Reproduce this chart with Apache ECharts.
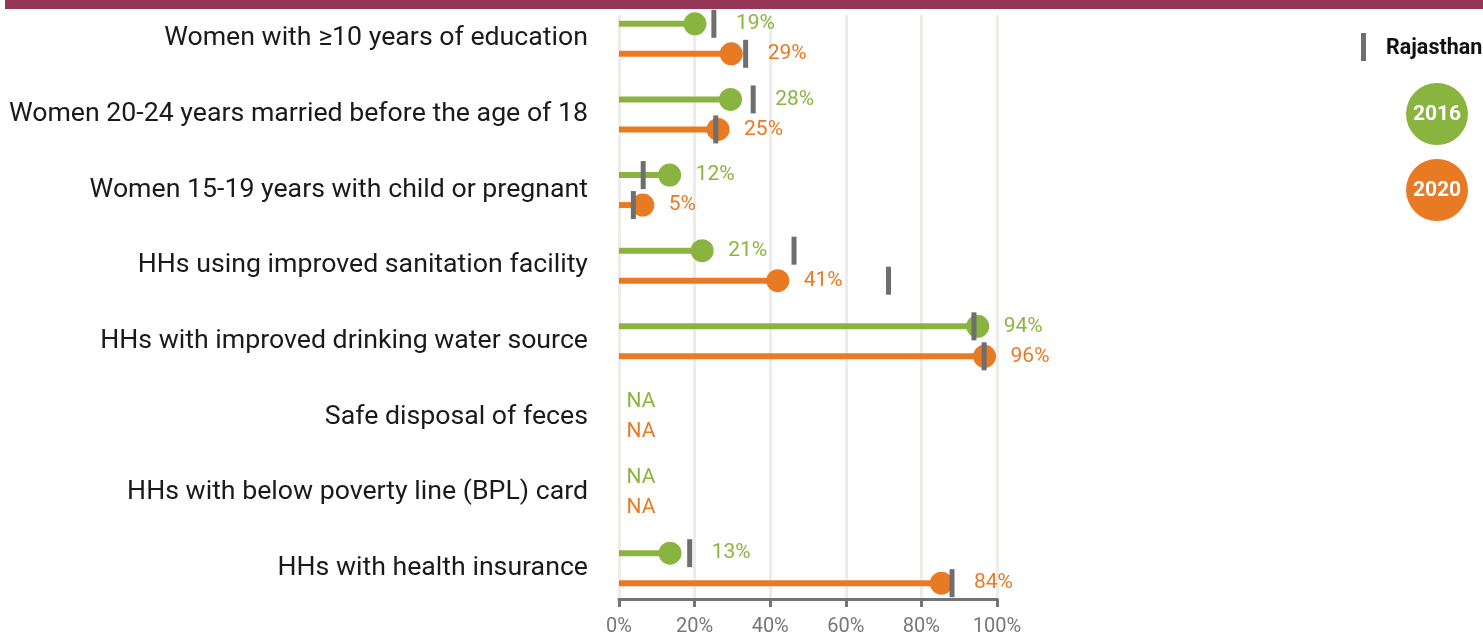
<!DOCTYPE html>
<html>
<head>
<meta charset="utf-8">
<script src="https://cdn.jsdelivr.net/npm/echarts@6/dist/echarts.min.js"></script>
<style>
html,body{margin:0;padding:0;background:#fff;}
#chart{width:1483px;height:637px;}
</style>
</head>
<body>
<div id="chart"></div>
<script>
const categories = [
  'Women with \u226510 years of education',
  'Women 20-24 years married before the age of 18',
  'Women 15-19 years with child or pregnant',
  'HHs using improved sanitation facility',
  'HHs with improved drinking water source',
  'Safe disposal of feces',
  'HHs with below poverty line (BPL) card',
  'HHs with health insurance'
];
const val2016 = [20.1, 29.5, 13.4, 22.0, 94.9, null, null, 13.5];
const val2020 = [29.7, 26.2, 6.3, 42.0, 96.7, null, null, 85.3];
const label2016 = ['19%', '28%', '12%', '21%', '94%', 'NA', 'NA', '13%'];
const label2020 = ['29%', '25%', '5%', '41%', '96%', 'NA', 'NA', '84%'];
const state2016 = [25.1, 35.5, 6.4, 46.3, 93.9, null, null, 18.7];
const state2020 = [33.5, 25.6, 3.8, 71.3, 96.6, null, null, 88.1];
const xTickValues = [0, 20, 40, 60, 80, 100];
const years = ['2016', '2020'];
const stateName = 'Rajasthan';

const GREEN = '#8ab440';
const ORANGE = '#e87a24';
const GREY = '#6e6e6e';
const FONT = 'Roboto';
const PX_PER_UNIT = 378 / 100;
const OFF = 15;

function dotData(vals, states) {
  return vals.map((v, i) => {
    if (v == null) {
      return { value: [0, i], symbolSize: 1, itemStyle: { color: 'transparent' }, label: { distance: 7 } };
    }
    let dist = 14.5;
    const s = states[i];
    if (s != null && s > v && (s - v) < 15) {
      dist = Math.max(dist, (s - v) * PX_PER_UNIT + 22 - 11.5);
    }
    return { value: [v, i], label: { distance: dist } };
  });
}
function stateData(states) {
  return states.map((s, i) => (s == null ? { value: [null, i] } : { value: [s, i] }));
}

const chart = echarts.init(document.getElementById('chart'), null, { renderer: 'canvas' });

const option = {
  backgroundColor: '#ffffff',
  animation: false,
  textStyle: { fontFamily: FONT },
  grid: [
    { left: 619, right: 486, top: 1, bottom: 31 },
    { left: 619, right: 486, top: 15, bottom: 38 }
  ],
  xAxis: [
    { gridIndex: 0, type: 'value', min: 0, max: 100, show: false },
    {
      gridIndex: 1, type: 'value', min: 0, max: 100, interval: 20,
      axisLine: { show: true, lineStyle: { color: '#737373', width: 3 } },
      axisTick: { show: true, length: 8, lineStyle: { color: '#737373', width: 3 } },
      axisLabel: {
        show: true, fontFamily: FONT, fontSize: 20, color: '#777777', margin: 18,
        formatter: v => (xTickValues.indexOf(v) >= 0 ? v + '%' : '')
      },
      splitLine: { show: true, lineStyle: { color: '#eeece8', width: 3 } }
    }
  ],
  yAxis: [
    {
      gridIndex: 0, type: 'category', data: categories, inverse: true,
      axisLine: { show: false }, axisTick: { show: false }, splitLine: { show: false },
      axisLabel: { fontFamily: FONT, fontSize: 26.7, color: '#1a1a1a', margin: 31, padding: [7, 0, 0, 0] }
    },
    { gridIndex: 1, type: 'value', min: 0, max: 1, show: false }
  ],
  series: [
    {
      name: years[0] + ' stem', type: 'bar', xAxisIndex: 0, yAxisIndex: 0,
      data: val2016, barWidth: 6, barGap: '400%', itemStyle: { color: GREEN }, z: 2, silent: true
    },
    {
      name: years[1] + ' stem', type: 'bar', xAxisIndex: 0, yAxisIndex: 0,
      data: val2020, barWidth: 6, barGap: '400%', itemStyle: { color: ORANGE }, z: 2, silent: true
    },
    {
      name: years[0], type: 'scatter', xAxisIndex: 0, yAxisIndex: 0,
      data: dotData(val2016, state2016), symbol: 'circle', symbolSize: 23, symbolOffset: [0, -OFF],
      itemStyle: { color: GREEN, opacity: 1 }, z: 3,
      label: {
        show: true, position: 'right', color: GREEN, fontFamily: FONT, fontSize: 21,
        formatter: p => label2016[p.dataIndex]
      }
    },
    {
      name: years[1], type: 'scatter', xAxisIndex: 0, yAxisIndex: 0,
      data: dotData(val2020, state2020), symbol: 'circle', symbolSize: 23, symbolOffset: [0, OFF],
      itemStyle: { color: ORANGE, opacity: 1 }, z: 3,
      label: {
        show: true, position: 'right', color: ORANGE, fontFamily: FONT, fontSize: 21,
        formatter: p => label2020[p.dataIndex]
      }
    },
    {
      name: stateName + ' ' + years[0], type: 'scatter', xAxisIndex: 0, yAxisIndex: 0,
      data: stateData(state2016), symbol: 'rect', symbolSize: [5, 28], symbolOffset: [0, -OFF],
      itemStyle: { color: GREY, opacity: 1 }, z: 4
    },
    {
      name: stateName + ' ' + years[1], type: 'scatter', xAxisIndex: 0, yAxisIndex: 0,
      data: stateData(state2020), symbol: 'rect', symbolSize: [5, 28], symbolOffset: [0, OFF],
      itemStyle: { color: GREY, opacity: 1 }, z: 4
    }
  ],
  graphic: [
    { type: 'rect', left: 5, top: 0, shape: { width: 1478, height: 9 }, style: { fill: '#963656' }, silent: true },
    { type: 'rect', left: 1361, top: 33, shape: { width: 5, height: 28 }, style: { fill: GREY }, silent: true },
    { type: 'text', x: 1386, y: 49, style: { text: stateName, fontFamily: FONT, fontWeight: 'bold', fontSize: 21.5, fill: '#111111', verticalAlign: 'middle' } },
    { type: 'circle', shape: { cx: 1437, cy: 114, r: 31 }, style: { fill: GREEN }, silent: true },
    { type: 'text', x: 1437, y: 115, style: { text: years[0], fontFamily: FONT, fontWeight: 'bold', fontSize: 21, fill: '#ffffff', align: 'center', verticalAlign: 'middle' } },
    { type: 'circle', shape: { cx: 1437, cy: 190, r: 31 }, style: { fill: ORANGE }, silent: true },
    { type: 'text', x: 1437, y: 191, style: { text: years[1], fontFamily: FONT, fontWeight: 'bold', fontSize: 21, fill: '#ffffff', align: 'center', verticalAlign: 'middle' } }
  ]
};
chart.setOption(option);
</script>
</body>
</html>
